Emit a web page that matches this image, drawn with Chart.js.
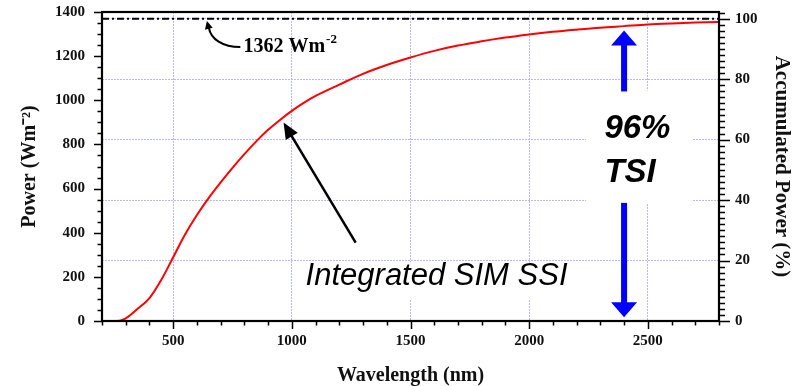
<!DOCTYPE html>
<html>
<head>
<meta charset="utf-8">
<script src="https://cdn.jsdelivr.net/npm/chart.js@4.4.1/dist/chart.umd.min.js"></script>
<style>
  html, body { margin: 0; padding: 0; background: #ffffff; }
  #wrap { width: 792px; height: 386px; }
</style>
</head>
<body>
<div id="wrap"><canvas id="c" width="792" height="386"></canvas></div>
<script>
// ---- data ----
const wavelength = [265, 280, 300, 320, 350, 400, 450, 500, 550, 600, 650, 700, 750, 800, 850, 900, 950, 1000,
                    1050, 1100, 1200, 1300, 1400, 1500, 1600, 1700, 1800, 1900, 2000, 2100, 2200, 2300, 2400, 2500, 2600, 2700, 2800];
const power = [0, 3, 12, 27, 55, 104, 187, 289, 392, 480, 558, 628, 694, 756, 814, 866, 911, 952,
               988, 1020, 1071, 1120, 1160, 1194, 1224, 1248, 1267, 1284, 1298, 1310, 1320, 1329, 1336, 1343, 1348, 1352, 1355];
const tsiPercent = 100;            // dash-dot reference line (100 % = 1362 W m-2)
const xTicks = [500, 1000, 1500, 2000, 2500];
const yTicks = [0, 200, 400, 600, 800, 1000, 1200, 1400];
const y2Ticks = [0, 20, 40, 60, 80, 100];

const SERIF = "'Liberation Serif', 'Times New Roman', serif";
const SANS = "'Liberation Sans', Arial, sans-serif";
const GRID = '#b9b9f2';
const tickFont = { family: SERIF, size: 15, weight: 'bold' };

const curve = wavelength.map((w, i) => ({ x: w, y: power[i] }));
const tsiLine = [{ x: 200, y: tsiPercent }, { x: 2800, y: tsiPercent }];

function arrowHead(ctx, x1, y1, x2, y2, len, half) {
  const a = Math.atan2(y2 - y1, x2 - x1);
  ctx.beginPath();
  ctx.moveTo(x2, y2);
  ctx.lineTo(x2 - len * Math.cos(a) + half * Math.sin(a), y2 - len * Math.sin(a) - half * Math.cos(a));
  ctx.lineTo(x2 - len * Math.cos(a) - half * Math.sin(a), y2 - len * Math.sin(a) + half * Math.cos(a));
  ctx.closePath();
  ctx.fill();
}

const annotations = {
  id: 'annotations',
  afterDatasetsDraw(chart) {
    const ctx = chart.ctx;
    const xs = chart.scales.x, ys = chart.scales.y;
    const px = v => xs.getPixelForValue(v), py = v => ys.getPixelForValue(v);
    ctx.save();

    // white box behind "96% TSI"
    ctx.fillStyle = '#ffffff';
    ctx.fillRect(px(2240), py(1045), px(2685) - px(2240), py(535) - py(1045));
    // white box behind "Integrated SIM SSI"
    ctx.fillRect(px(1040), py(265), px(2350) - px(1040), py(95) - py(265));

    // 96% / TSI text
    ctx.fillStyle = '#000000';
    ctx.textBaseline = 'alphabetic';
    ctx.textAlign = 'left';
    ctx.font = "italic bold 33px " + SANS;
    ctx.fillText('96%', px(2317), py(830));
    ctx.fillText('TSI', px(2317), py(630));

    // blue arrows at 2400 nm
    const bx = px(2400);
    ctx.fillStyle = '#0000ff';
    const upTip = py(1316), upTail = py(1040);
    ctx.fillRect(bx - 3, upTip + 14, 6, upTail - upTip - 14);
    ctx.beginPath(); ctx.moveTo(bx, upTip); ctx.lineTo(bx - 13, upTip + 15); ctx.lineTo(bx + 13, upTip + 15); ctx.closePath(); ctx.fill();
    const dnTail = py(535), dnTip = py(17);
    ctx.fillRect(bx - 3, dnTail, 6, dnTip - dnTail - 14);
    ctx.beginPath(); ctx.moveTo(bx, dnTip); ctx.lineTo(bx - 13, dnTip - 15); ctx.lineTo(bx + 13, dnTip - 15); ctx.closePath(); ctx.fill();

    // "Integrated SIM SSI"
    ctx.fillStyle = '#000000';
    ctx.font = "italic 31px " + SANS;
    ctx.fillText('Integrated SIM SSI', px(1058), py(162));

    // black arrow to the curve
    const tx = px(1269), ty = py(355), hx = px(965), hy = py(899);
    ctx.strokeStyle = '#000000';
    ctx.lineWidth = 2.5;
    const ang = Math.atan2(hy - ty, hx - tx);
    ctx.beginPath(); ctx.moveTo(tx, ty); ctx.lineTo(hx - 10 * Math.cos(ang), hy - 10 * Math.sin(ang)); ctx.stroke();
    arrowHead(ctx, tx, ty, hx, hy, 16, 7);

    // "1362 Wm-2" label with curved arrow
    ctx.font = "bold 20px " + SERIF;
    const lx = px(796), ly = py(1217);
    ctx.fillText('1362 Wm', lx, ly);
    const w = ctx.measureText('1362 Wm').width;
    ctx.font = "bold 13px " + SERIF;
    ctx.fillText('-2', lx + w + 1, ly - 9);

    const sx = px(783), sy = py(1241), ex = px(642), ey = py(1359);
    ctx.lineWidth = 2;
    ctx.beginPath();
    ctx.moveTo(sx, sy);
    ctx.bezierCurveTo(sx - 18, sy, ex + 4, sy - 8, ex + 2, ey + 7);
    ctx.stroke();
    arrowHead(ctx, ex + 3, ey + 12, ex, ey, 8, 4);

    ctx.restore();
  },
  afterDraw(chart) {
    const ctx = chart.ctx;
    const a = chart.chartArea;
    const xs = chart.scales.x, ys = chart.scales.y, y2s = chart.scales.y2;
    ctx.save();
    ctx.strokeStyle = '#000000';
    ctx.lineWidth = 1.5;
    ctx.beginPath();
    for (let v = 200; v <= 2800; v += 100) {
      const x = Math.round(xs.getPixelForValue(v)) + 0.5;
      const len = v % 500 === 0 ? 8 : 4.5;
      ctx.moveTo(x, a.bottom); ctx.lineTo(x, a.bottom + len);
    }
    for (let v = 0; v <= 1400; v += 50) {
      const y = Math.round(ys.getPixelForValue(v)) + 0.5;
      const len = v % 200 === 0 ? 8 : 4.5;
      ctx.moveTo(a.left, y); ctx.lineTo(a.left - len, y);
    }
    for (let v = 0; v <= 102; v += 2) {
      const y = Math.round(y2s.getPixelForValue(v)) + 0.5;
      const len = v % 20 === 0 ? 11 : 6;
      ctx.moveTo(a.right, y); ctx.lineTo(a.right + len, y);
    }
    ctx.stroke();
    ctx.lineWidth = 2.2;
    ctx.strokeRect(a.left, a.top, a.right - a.left, a.bottom - a.top);
    ctx.restore();
  }
};

const plain = v => String(v);

new Chart(document.getElementById('c'), {
  type: 'line',
  data: {
    datasets: [
      {
        label: 'Integrated SIM SSI',
        data: curve,
        xAxisID: 'x', yAxisID: 'y',
        borderColor: '#ff0000',
        borderWidth: 2,
        pointRadius: 0,
        tension: 0.35,
        fill: false
      },
      {
        label: '1362 Wm-2',
        data: tsiLine,
        xAxisID: 'x', yAxisID: 'y2',
        borderColor: '#000000',
        borderWidth: 2,
        borderDash: [7, 3, 2, 3],
        pointRadius: 0,
        fill: false
      }
    ]
  },
  options: {
    responsive: false,
    animation: false,
    devicePixelRatio: 1,
    layout: { padding: { top: 12, left: 0, right: 0, bottom: 0 } },
    plugins: { legend: { display: false }, tooltip: { enabled: false } },
    scales: {
      x: {
        type: 'linear', min: 200, max: 2800,
        afterBuildTicks: s => { s.ticks = xTicks.map(v => ({ value: v })); },
        afterFit: s => { s.height = 65; s.paddingLeft = 0; s.paddingRight = 0; },
        ticks: { font: tickFont, color: '#111', padding: 11, maxRotation: 0, autoSkip: false, callback: plain },
        grid: { drawTicks: false, color: GRID, lineWidth: 1 },
        border: { display: false, dash: [2, 1] },
        title: { display: true, text: 'Wavelength (nm)', color: '#111',
                 font: { family: SERIF, size: 20, weight: 'bold', lineHeight: 1 }, padding: { top: 0, bottom: 0 } }
      },
      y: {
        type: 'linear', position: 'left', min: 0, max: 1400,
        afterBuildTicks: s => { s.ticks = yTicks.map(v => ({ value: v })); },
        afterFit: s => { s.width = 102; s.paddingTop = 0; s.paddingBottom = 0; },
        ticks: { font: tickFont, color: '#111', padding: 17, callback: plain },
        grid: { display: false, drawTicks: false },
        border: { display: false },
        title: { display: true, text: 'Power (Wm⁻²)', color: '#111',
                 font: { family: SERIF, size: 20, weight: 'bold', lineHeight: 1 }, padding: { top: 20, bottom: 0 } }
      },
      y2: {
        type: 'linear', position: 'right', min: 0, max: 102.2,
        afterBuildTicks: s => { s.ticks = y2Ticks.map(v => ({ value: v })); },
        afterFit: s => { s.width = 73; s.paddingTop = 0; s.paddingBottom = 0; },
        ticks: { font: tickFont, color: '#111', padding: 16, callback: plain },
        grid: { drawTicks: false, color: GRID, lineWidth: 1, drawOnChartArea: true },
        border: { display: false, dash: [2, 1] },
        title: { display: true, text: 'Accumulated Power (%)', color: '#111',
                 font: { family: SERIF, size: 21, weight: 'bold', lineHeight: 1 }, padding: { top: 0, bottom: 0 } }
      }
    }
  },
  plugins: [annotations]
});
</script>
</body>
</html>
